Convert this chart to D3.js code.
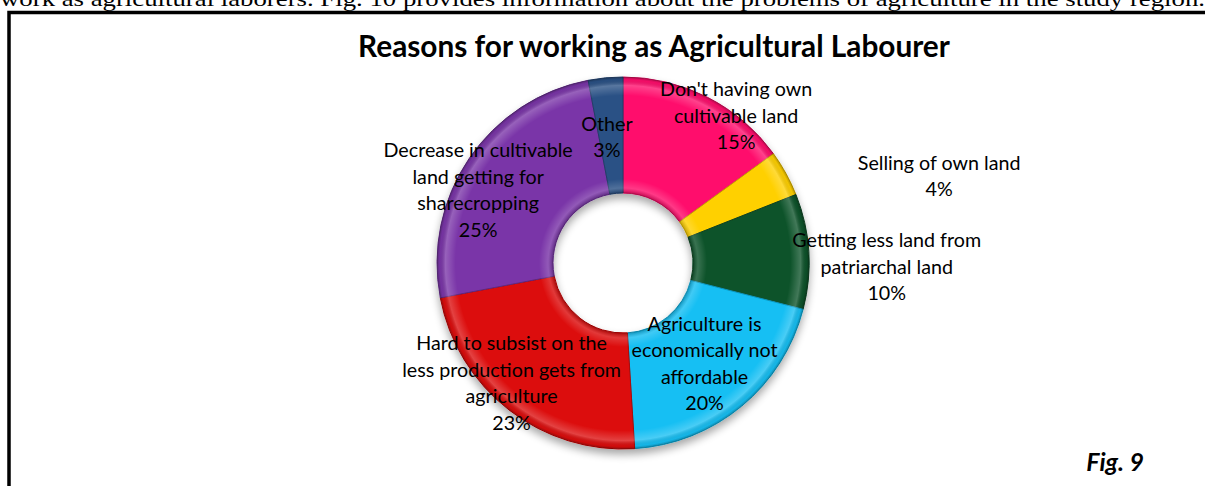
<!DOCTYPE html>
<html>
<head>
<meta charset="utf-8">
<script src="https://cdn.jsdelivr.net/npm/d3@7"></script>
<style>
  body { margin: 0; background: #fff; }
  svg { display: block; }
</style>
</head>
<body>
<svg id="chart" width="1205" height="486"></svg>
<script>
// chart data
var categories = [
  "Don't having own cultivable land",
  "Selling of own land",
  "Getting less land from patriarchal land",
  "Agriculture is economically not affordable",
  "Hard to subsist on the less production gets from agriculture",
  "Decrease in cultivable land getting for sharecropping",
  "Other"
];
var values = [15, 4, 10, 20, 23, 25, 3];
var labelLines = [
  ["Don't having own", "cultivable land"],
  ["Selling of own land"],
  ["Getting less land from", "patriarchal land"],
  ["Agriculture is", "economically not", "affordable"],
  ["Hard to subsist on the", "less production gets from", "agriculture"],
  ["Decrease in cultivable", "land getting for", "sharecropping"],
  ["Other"]
];
var colors = ["#ff0a6c", "#ffd000", "#0b5229", "#12bff3", "#dc0909", "#7a36a8", "#2a5185"];

// label nudges from the ring centroid (px), like excel "best fit"
var nudge = [[55, -33], [204, -25], [136, 12], [0, 2], [-33, 19], [-39, -1], [-4, 1.5]];

var svg = d3.select("#chart");
var cx = 623, cy = 263, rOuter = 186, rInner = 70;
var lineH = 26.5;
var labelFont = "Lato, 'Open Sans', sans-serif";

// running text of the page, cut off at top
svg.append("text").attr("x", 0).attr("y", 6)
  .attr("font-family", "'Liberation Serif', serif").attr("font-size", 21).attr("fill", "#000")
  .attr("textLength", 1205).attr("lengthAdjust", "spacingAndGlyphs")
  .text("work as agricultural laborers. Fig. 10 provides information about the problems of agriculture in the study region.");

// frame (open to right and bottom)
svg.append("path").attr("d", "M9,486 L9,12.5 L1205,12.5")
  .attr("fill", "none").attr("stroke", "#000").attr("stroke-width", 3.5);

// title
var title = svg.append("text").attr("x", 654).attr("y", 57).attr("text-anchor", "middle")
  .attr("font-family", labelFont).attr("font-weight", "bold").attr("font-size", 26).attr("fill", "#000")
  .text("Reasons for working as Agricultural Labourer");
var tw = title.node().getComputedTextLength();
title.attr("font-size", 26 * 592 / tw);

var defs = svg.append("defs");
var shadow = defs.append("filter").attr("id", "shadow").attr("x", "-20%").attr("y", "-20%").attr("width", "140%").attr("height", "140%");
shadow.append("feGaussianBlur").attr("in", "SourceAlpha").attr("stdDeviation", 4);
shadow.append("feOffset").attr("dx", 0).attr("dy", 5).attr("result", "off");
shadow.append("feComponentTransfer").append("feFuncA").attr("type", "linear").attr("slope", 0.35);
var merge = shadow.append("feMerge");
merge.append("feMergeNode");
merge.append("feMergeNode").attr("in", "SourceGraphic");

// bevel highlight (in the ring's own translated coords)
var bevel = defs.append("radialGradient").attr("id", "bevel")
  .attr("gradientUnits", "userSpaceOnUse").attr("cx", 0).attr("cy", 0).attr("r", rOuter);
var bStops = [
  [rInner / rOuter, "#000", 0.22],
  [(rInner + 5) / rOuter, "#fff", 0.18],
  [(rInner + 14) / rOuter, "#fff", 0],
  [0.9, "#fff", 0],
  [0.955, "#fff", 0.22],
  [0.985, "#000", 0.05],
  [1, "#000", 0.28]
];
bStops.forEach(function(s) {
  bevel.append("stop").attr("offset", s[0]).attr("stop-color", s[1]).attr("stop-opacity", s[2]);
});

var pie = d3.pie().sort(null).value(function(d) { return d; });
var arcs = pie(values);
var arc = d3.arc().innerRadius(rInner).outerRadius(rOuter);
var mid = d3.arc().innerRadius(128).outerRadius(128);

var g = svg.append("g").attr("transform", "translate(" + cx + "," + cy + ")");
var ring = g.append("g").attr("filter", "url(#shadow)");
ring.selectAll("path.slice").data(arcs).enter().append("path")
  .attr("class", "slice")
  .attr("d", arc)
  .attr("fill", function(d, i) { return colors[i]; })
  .attr("stroke", function(d, i) { return d3.color(colors[i]).darker(0.7); })
  .attr("stroke-width", 1);

g.append("g").selectAll("path").data(arcs).enter().append("path")
  .attr("d", arc)
  .attr("fill", "url(#bevel)")
  .attr("pointer-events", "none");

// labels
var lbl = g.selectAll("text.lbl").data(arcs).enter().append("text")
  .attr("class", "lbl")
  .attr("text-anchor", "middle")
  .attr("font-family", labelFont).attr("fill", "#000")
  .attr("font-size", 19)
  .each(function(d, i) {
    var c = mid.centroid(d);
    var x = c[0] + nudge[i][0], y = c[1] + nudge[i][1];
    var lines = labelLines[i].concat([Math.round(values[i]) + "%"]);
    var top = y - (lines.length - 1) * lineH / 2;
    var t = d3.select(this);
    lines.forEach(function(s, k) {
      t.append("tspan").attr("x", x).attr("y", top + k * lineH).attr("dy", "0.35em").text(s);
    });
  });

// scale label font so "less production gets from" is about 219px wide
var probe = svg.append("text").attr("font-family", labelFont).attr("font-size", 19).text("less production gets from");
var pw = probe.node().getComputedTextLength();
probe.remove();
lbl.attr("font-size", 19 * 219 / pw);

svg.append("text").attr("x", 1144).attr("y", 471).attr("text-anchor", "end")
  .attr("font-family", labelFont).attr("font-weight", "bold").attr("font-style", "italic")
  .attr("font-size", 25).attr("fill", "#000").text("Fig. 9");
</script>
</body>
</html>
